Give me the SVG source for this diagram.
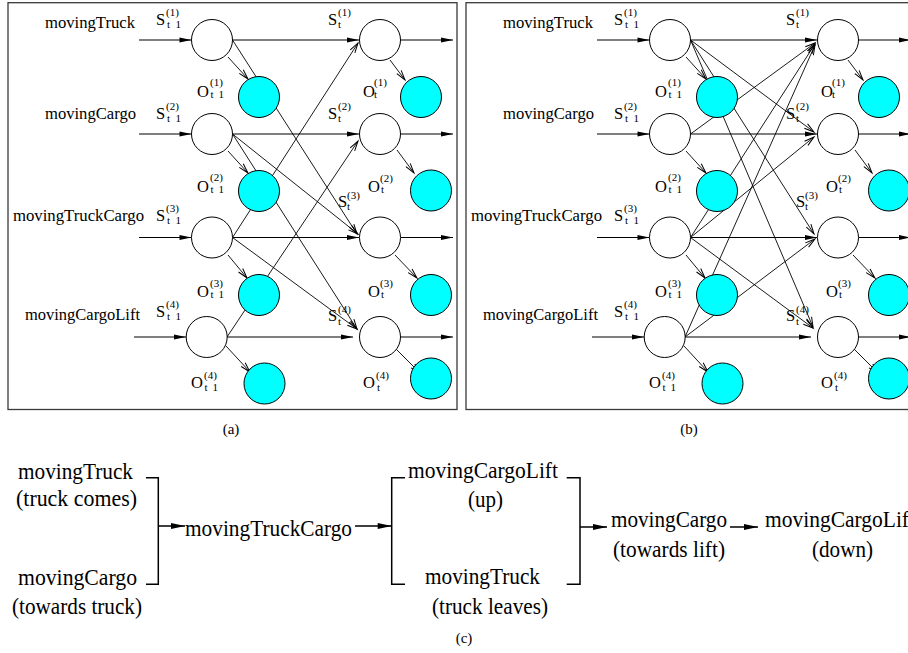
<svg xmlns="http://www.w3.org/2000/svg" width="908" height="653" viewBox="0 0 908 653" font-family="'Liberation Serif', 'Times New Roman', 'DejaVu Serif', serif">
<style>
.frame{fill:none;stroke:#3a3a3a;stroke-width:1.3}
.st{fill:#fff;stroke:#000;stroke-width:1}
.ob{fill:#00ffff;stroke:#000;stroke-width:1}
.lab,.sm,.cap,.big{font-family:'Liberation Serif','Times New Roman','DejaVu Serif',serif}
.lab{font-size:16.5px}
.sm{font-size:11px}
.cap{font-size:15px}
.big{font-size:24px}
.h{stroke:#000;stroke-width:1.2;fill:none;marker-end:url(#fh)}
.d{stroke:#000;stroke-width:0.9;fill:none;marker-end:url(#oh)}
.br{stroke:#000;stroke-width:1.5;fill:none}
.ha{stroke:#000;stroke-width:1.5;fill:none;marker-end:url(#bh)}
</style>
<defs>
<marker id="fh" markerUnits="userSpaceOnUse" markerWidth="12" markerHeight="6" refX="12" refY="3" orient="auto" overflow="visible"><path d="M0,0.6 L12,3 L0,5.4 Z" fill="#000"/></marker>
<marker id="oh" markerUnits="userSpaceOnUse" markerWidth="10" markerHeight="6" refX="10" refY="3" orient="auto" overflow="visible"><path d="M0,0.3 L10,3 L0,5.7" fill="none" stroke="#000" stroke-width="1"/></marker>
<marker id="bh" markerUnits="userSpaceOnUse" markerWidth="14" markerHeight="7" refX="14" refY="3.5" orient="auto" overflow="visible"><path d="M0,0.5 L14,3.5 L0,6.5 Z" fill="#000"/></marker>
</defs>
<rect x="0" y="0" width="908" height="653" fill="#fff"/>

<!-- Panel (a) -->
<g id="panel-a">
<rect class="frame" x="8" y="2.7" width="449" height="406.8"/>
<g id="a-rowlabels">
<text class="lab" x="45" y="28" textLength="90" lengthAdjust="spacingAndGlyphs">movingTruck</text>
<text class="lab" x="45" y="118.5" textLength="91" lengthAdjust="spacingAndGlyphs">movingCargo</text>
<text class="lab" x="13" y="221" textLength="131" lengthAdjust="spacingAndGlyphs">movingTruckCargo</text>
<text class="lab" x="25" y="320" textLength="115" lengthAdjust="spacingAndGlyphs">movingCargoLift</text>
</g>
<g id="a-connectors">
<path class="h" d="M139,40 H191.5"/>
<path class="h" d="M139,134 H191.5"/>
<path class="h" d="M139,237.5 H191.5"/>
<path class="h" d="M134,337 H186"/>
<path class="h" d="M232.5,40 H359"/>
<path class="h" d="M232.5,134 H359"/>
<path class="h" d="M232.5,237.5 H359"/>
<path class="h" d="M227,337 H353"/>
<path class="h" d="M400.5,40 H453"/>
<path class="h" d="M400.5,134 H453"/>
<path class="h" d="M400.5,237.5 H453"/>
<path class="h" d="M400.5,337 H453"/>
<path class="d" d="M228,57 L248,79"/>
<path class="d" d="M228,151 L248,173"/>
<path class="d" d="M228,255 L247,278"/>
<path class="d" d="M226,346 L250,372"/>
<path class="d" d="M390,60 L405,80"/>
<path class="d" d="M397,150 L414,173"/>
<path class="d" d="M395,255 L417,278"/>
<path class="d" d="M395,348 L420,373"/>
<path class="d" d="M232.5,40 L357,234"/>
<path class="d" d="M232.5,134 L358,234"/>
<path class="d" d="M232.5,134 L357,329"/>
<path class="d" d="M232.5,237.5 L358,43"/>
<path class="d" d="M232.5,237.5 L357,329"/>
<path class="d" d="M227,337 L358,141"/>
</g>
<g id="a-s1-prev"><circle class="st" cx="212" cy="40" r="20.5"/><text class="lab" x="156" y="25">S</text><text class="sm" x="166" y="16">(1)</text><text class="sm" x="167" y="28">t<tspan dx="5.5">1</tspan></text></g>
<g id="a-s2-prev"><circle class="st" cx="212" cy="134" r="20.5"/><text class="lab" x="156" y="119">S</text><text class="sm" x="166" y="110">(2)</text><text class="sm" x="167" y="122">t<tspan dx="5.5">1</tspan></text></g>
<g id="a-s3-prev"><circle class="st" cx="212" cy="237.5" r="20.5"/><text class="lab" x="156" y="221">S</text><text class="sm" x="166" y="212">(3)</text><text class="sm" x="167" y="224">t<tspan dx="5.5">1</tspan></text></g>
<g id="a-s4-prev"><circle class="st" cx="206.7" cy="337" r="20.5"/><text class="lab" x="156" y="317">S</text><text class="sm" x="166" y="308">(4)</text><text class="sm" x="167" y="320">t<tspan dx="5.5">1</tspan></text></g>
<g id="a-s1-cur"><circle class="st" cx="380" cy="40" r="20.5"/><text class="lab" x="328" y="25">S</text><text class="sm" x="338" y="16">(1)</text><text class="sm" x="338" y="28">t</text></g>
<g id="a-s2-cur"><circle class="st" cx="380" cy="134" r="20.5"/><text class="lab" x="328" y="119">S</text><text class="sm" x="338" y="110">(2)</text><text class="sm" x="338" y="122">t</text></g>
<g id="a-s3-cur"><circle class="st" cx="380" cy="237.5" r="20.5"/><text class="lab" x="338" y="207">S</text><text class="sm" x="347" y="199">(3)</text><text class="sm" x="347" y="210">t</text></g>
<g id="a-s4-cur"><circle class="st" cx="380" cy="337" r="20.5"/><text class="lab" x="328" y="321">S</text><text class="sm" x="338" y="313">(4)</text><text class="sm" x="338" y="325">t</text></g>
<g id="a-o1-prev"><circle class="ob" cx="259" cy="97" r="20.5"/><text class="lab" x="197" y="96.5">O</text><text class="sm" x="210" y="86">(1)</text><text class="sm" x="210.5" y="97.5">t<tspan dx="5">1</tspan></text></g>
<g id="a-o2-prev"><circle class="ob" cx="259" cy="191" r="20.5"/><text class="lab" x="197" y="191.5">O</text><text class="sm" x="210" y="181">(2)</text><text class="sm" x="210.5" y="192.5">t<tspan dx="5">1</tspan></text></g>
<g id="a-o3-prev"><circle class="ob" cx="259" cy="295" r="20.5"/><text class="lab" x="197" y="297">O</text><text class="sm" x="210" y="287">(3)</text><text class="sm" x="210.5" y="298">t<tspan dx="5">1</tspan></text></g>
<g id="a-o4-prev"><circle class="ob" cx="264.5" cy="383.5" r="20.5"/><text class="lab" x="191" y="388">O</text><text class="sm" x="204" y="379">(4)</text><text class="sm" x="204.5" y="391">t<tspan dx="5">1</tspan></text></g>
<g id="a-o1-cur"><circle class="ob" cx="421" cy="97" r="20.5"/><text class="lab" x="363" y="96.5">O</text><text class="sm" x="374" y="86">(1)</text><text class="sm" x="374" y="97.5">t</text></g>
<g id="a-o2-cur"><circle class="ob" cx="431" cy="190.5" r="20.5"/><text class="lab" x="368" y="192">O</text><text class="sm" x="380" y="182">(2)</text><text class="sm" x="381" y="193">t</text></g>
<g id="a-o3-cur"><circle class="ob" cx="431" cy="295" r="20.5"/><text class="lab" x="368" y="297">O</text><text class="sm" x="380" y="287">(3)</text><text class="sm" x="381" y="298">t</text></g>
<g id="a-o4-cur"><circle class="ob" cx="431" cy="378.5" r="20.5"/><text class="lab" x="363" y="388">O</text><text class="sm" x="376" y="379">(4)</text><text class="sm" x="377" y="391">t</text></g>
<text class="cap" x="231" y="434" text-anchor="middle">(a)</text>
</g>

<!-- Panel (b) -->
<g id="panel-b" transform="translate(458,0)">
<rect class="frame" x="8" y="2.7" width="449" height="406.8"/>
<g id="b-rowlabels">
<text class="lab" x="45" y="28" textLength="90" lengthAdjust="spacingAndGlyphs">movingTruck</text>
<text class="lab" x="45" y="118.5" textLength="91" lengthAdjust="spacingAndGlyphs">movingCargo</text>
<text class="lab" x="13" y="221" textLength="131" lengthAdjust="spacingAndGlyphs">movingTruckCargo</text>
<text class="lab" x="25" y="320" textLength="115" lengthAdjust="spacingAndGlyphs">movingCargoLift</text>
</g>
<g id="b-connectors">
<path class="h" d="M139,40 H191.5"/>
<path class="h" d="M139,134 H191.5"/>
<path class="h" d="M139,237.5 H191.5"/>
<path class="h" d="M134,337 H186"/>
<path class="h" d="M232.5,40 H359"/>
<path class="h" d="M232.5,134 H359"/>
<path class="h" d="M232.5,237.5 H359"/>
<path class="h" d="M227,337 H353"/>
<path class="h" d="M400.5,40 H453"/>
<path class="h" d="M400.5,134 H453"/>
<path class="h" d="M400.5,237.5 H453"/>
<path class="h" d="M400.5,337 H453"/>
<path class="d" d="M228,57 L248,79"/>
<path class="d" d="M228,151 L248,173"/>
<path class="d" d="M228,255 L247,278"/>
<path class="d" d="M226,346 L250,372"/>
<path class="d" d="M390,60 L405,80"/>
<path class="d" d="M397,150 L414,173"/>
<path class="d" d="M395,255 L417,278"/>
<path class="d" d="M395,348 L420,373"/>
<path class="d" d="M232.5,40 L356,132"/>
<path class="d" d="M232.5,40 L356,234"/>
<path class="d" d="M232.5,40 L355,327"/>
<path class="d" d="M232.5,134 L357,43"/>
<path class="d" d="M232.5,237.5 L357,44"/>
<path class="d" d="M232.5,237.5 L356,137"/>
<path class="d" d="M232.5,237.5 L355,328"/>
<path class="d" d="M227,337 L357,45"/>
<path class="d" d="M227,337 L357,239"/>
</g>
<g id="b-s1-prev"><circle class="st" cx="212" cy="40" r="20.5"/><text class="lab" x="156" y="25">S</text><text class="sm" x="166" y="16">(1)</text><text class="sm" x="167" y="28">t<tspan dx="5.5">1</tspan></text></g>
<g id="b-s2-prev"><circle class="st" cx="212" cy="134" r="20.5"/><text class="lab" x="156" y="119">S</text><text class="sm" x="166" y="110">(2)</text><text class="sm" x="167" y="122">t<tspan dx="5.5">1</tspan></text></g>
<g id="b-s3-prev"><circle class="st" cx="212" cy="237.5" r="20.5"/><text class="lab" x="156" y="221">S</text><text class="sm" x="166" y="212">(3)</text><text class="sm" x="167" y="224">t<tspan dx="5.5">1</tspan></text></g>
<g id="b-s4-prev"><circle class="st" cx="206.7" cy="337" r="20.5"/><text class="lab" x="156" y="317">S</text><text class="sm" x="166" y="308">(4)</text><text class="sm" x="167" y="320">t<tspan dx="5.5">1</tspan></text></g>
<g id="b-s1-cur"><circle class="st" cx="380" cy="40" r="20.5"/><text class="lab" x="328" y="25">S</text><text class="sm" x="338" y="16">(1)</text><text class="sm" x="338" y="28">t</text></g>
<g id="b-s2-cur"><circle class="st" cx="380" cy="134" r="20.5"/><text class="lab" x="328" y="119">S</text><text class="sm" x="338" y="110">(2)</text><text class="sm" x="338" y="122">t</text></g>
<g id="b-s3-cur"><circle class="st" cx="380" cy="237.5" r="20.5"/><text class="lab" x="338" y="207">S</text><text class="sm" x="347" y="199">(3)</text><text class="sm" x="347" y="210">t</text></g>
<g id="b-s4-cur"><circle class="st" cx="380" cy="337" r="20.5"/><text class="lab" x="328" y="321">S</text><text class="sm" x="338" y="313">(4)</text><text class="sm" x="338" y="325">t</text></g>
<g id="b-o1-prev"><circle class="ob" cx="259" cy="97" r="20.5"/><text class="lab" x="197" y="96.5">O</text><text class="sm" x="210" y="86">(1)</text><text class="sm" x="210.5" y="97.5">t<tspan dx="5">1</tspan></text></g>
<g id="b-o2-prev"><circle class="ob" cx="259" cy="191" r="20.5"/><text class="lab" x="197" y="191.5">O</text><text class="sm" x="210" y="181">(2)</text><text class="sm" x="210.5" y="192.5">t<tspan dx="5">1</tspan></text></g>
<g id="b-o3-prev"><circle class="ob" cx="259" cy="295" r="20.5"/><text class="lab" x="197" y="297">O</text><text class="sm" x="210" y="287">(3)</text><text class="sm" x="210.5" y="298">t<tspan dx="5">1</tspan></text></g>
<g id="b-o4-prev"><circle class="ob" cx="264.5" cy="383.5" r="20.5"/><text class="lab" x="191" y="388">O</text><text class="sm" x="204" y="379">(4)</text><text class="sm" x="204.5" y="391">t<tspan dx="5">1</tspan></text></g>
<g id="b-o1-cur"><circle class="ob" cx="421" cy="97" r="20.5"/><text class="lab" x="363" y="96.5">O</text><text class="sm" x="374" y="86">(1)</text><text class="sm" x="374" y="97.5">t</text></g>
<g id="b-o2-cur"><circle class="ob" cx="431" cy="190.5" r="20.5"/><text class="lab" x="368" y="192">O</text><text class="sm" x="380" y="182">(2)</text><text class="sm" x="381" y="193">t</text></g>
<g id="b-o3-cur"><circle class="ob" cx="431" cy="295" r="20.5"/><text class="lab" x="368" y="297">O</text><text class="sm" x="380" y="287">(3)</text><text class="sm" x="381" y="298">t</text></g>
<g id="b-o4-cur"><circle class="ob" cx="431" cy="378.5" r="20.5"/><text class="lab" x="363" y="388">O</text><text class="sm" x="376" y="379">(4)</text><text class="sm" x="377" y="391">t</text></g>
<text class="cap" x="231" y="434" text-anchor="middle">(b)</text>
</g>

<!-- Part (c) -->
<g id="panel-c">
<g id="c-movingTruck-comes"><text class="big" x="18" y="479" textLength="115" lengthAdjust="spacingAndGlyphs">movingTruck</text><text class="big" x="16" y="506" textLength="121" lengthAdjust="spacingAndGlyphs">(truck comes)</text></g>
<g id="c-movingCargo-towards-truck"><text class="big" x="18" y="585" textLength="119" lengthAdjust="spacingAndGlyphs">movingCargo</text><text class="big" x="12" y="614" textLength="130" lengthAdjust="spacingAndGlyphs">(towards truck)</text></g>
<g id="c-movingTruckCargo"><text class="big" x="185" y="536" textLength="167" lengthAdjust="spacingAndGlyphs">movingTruckCargo</text></g>
<g id="c-movingCargoLift-up"><text class="big" x="408" y="477.5" textLength="150" lengthAdjust="spacingAndGlyphs">movingCargoLift</text><text class="big" x="468" y="507" textLength="35" lengthAdjust="spacingAndGlyphs">(up)</text></g>
<g id="c-movingTruck-leaves"><text class="big" x="425" y="584" textLength="115" lengthAdjust="spacingAndGlyphs">movingTruck</text><text class="big" x="432" y="614" textLength="116" lengthAdjust="spacingAndGlyphs">(truck leaves)</text></g>
<g id="c-movingCargo-towards-lift"><text class="big" x="611" y="527" textLength="116" lengthAdjust="spacingAndGlyphs">movingCargo</text><text class="big" x="613" y="557" textLength="112" lengthAdjust="spacingAndGlyphs">(towards lift)</text></g>
<g id="c-movingCargoLift-down"><text class="big" x="765" y="527" textLength="150" lengthAdjust="spacingAndGlyphs">movingCargoLift</text><text class="big" x="812" y="557" textLength="61" lengthAdjust="spacingAndGlyphs">(down)</text></g>
<g id="c-connectors">
<path class="br" d="M146,477.7 H158.3 V584.3 H146"/>
<path class="ha" d="M158.3,526 H185"/>
<path class="ha" d="M355,526 H391.7"/>
<path class="br" d="M405,477.7 H391.7 V584.3 H405"/>
<path class="br" d="M566.7,477.7 H580 V584.3 H566.7"/>
<path class="ha" d="M580,527 H607"/>
<path class="ha" d="M730,527 H758"/>
</g>
<text class="cap" x="464" y="643" text-anchor="middle">(c)</text>
</g>
</svg>
